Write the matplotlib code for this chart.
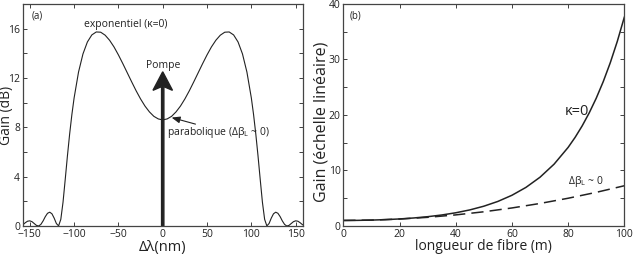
import matplotlib.pyplot as plt

plt.rcParams['font.family'] = ['Open Sans', 'DejaVu Sans']
plt.rcParams['mathtext.fontset'] = 'custom'
plt.rcParams['mathtext.rm'] = 'Open Sans'
plt.rcParams['mathtext.it'] = 'Open Sans:italic'

# (a) gain spectrum, dB vs detuning (nm)
dlam = [-158, -157.5, -155, -152.5, -150, -147.5, -145, -142.5, -140, -137.5, -135, -132.5,
        -130, -127.5, -125, -122.5, -120, -117.5, -115, -112.5, -110, -107.5, -105, -102.5,
        -100, -95, -90, -85, -80, -75, -70, -65, -60, -55, -50, -45, -40, -35, -30, -25,
        -20, -15, -10, -5, 0, 5, 10, 15, 20, 25, 30, 35, 40, 45, 50, 55, 60, 65, 70, 75,
        80, 85, 90, 95, 100, 102.5, 105, 107.5, 110, 112.5, 115, 117.5, 120, 122.5, 125,
        127.5, 130, 132.5, 135, 137.5, 140, 142.5, 145, 147.5, 150, 152.5, 155, 157.5, 158]
gain_db = [0.10, 0.12, 0.27, 0.39, 0.42, 0.35, 0.20, 0.05, 0.00, 0.13, 0.41, 0.76,
           1.03, 1.12, 0.99, 0.64, 0.20, 0.01, 0.54, 1.93, 3.79, 5.71, 7.48, 9.04,
           10.38, 12.48, 13.95, 14.92, 15.49, 15.73, 15.71, 15.47, 15.06, 14.52, 13.87, 13.16, 12.42, 11.68, 10.96, 10.30,
           9.72, 9.25, 8.89, 8.68, 8.60, 8.68, 8.89, 9.25, 9.72, 10.30, 10.96, 11.68, 12.42, 13.16, 13.87, 14.52, 15.06, 15.47, 15.71, 15.73,
           15.49, 14.92, 13.95, 12.48, 10.38, 9.04, 7.48, 5.71, 3.79, 1.93, 0.54, 0.01, 0.20, 0.64, 0.99,
           1.12, 1.03, 0.76, 0.41, 0.13, 0.00, 0.05, 0.20, 0.35, 0.42, 0.39, 0.27, 0.12, 0.10]

# (b) linear gain vs fibre length (m)
length = [0, 5, 10, 15, 20, 25, 30, 35, 40, 45, 50, 55, 60, 65, 70, 75, 80, 82.5, 85, 87.5,
          90, 92.5, 95, 97.5, 100]
gain_k0 = [1.0, 1.016, 1.064, 1.147, 1.272, 1.445, 1.676, 1.982, 2.381, 2.898, 3.566, 4.427,
           5.534, 6.957, 8.786, 11.136, 14.154, 15.971, 18.030, 20.364, 23.007, 26.003, 29.398,
           33.244, 37.605]
length_dash = [0, 10, 20, 30, 40, 50, 60, 70, 80, 90, 100]
gain_db0 = [1.0, 1.0625, 1.25, 1.5625, 2.0, 2.5625, 3.25, 4.0625, 5.0, 6.0625, 7.25]

ink = '#222222'
fig = plt.figure(figsize=(6.36, 2.57), dpi=100)
ax1 = fig.add_axes([0.0357, 0.1206, 0.4403, 0.864])
ax2 = fig.add_axes([0.5398, 0.1206, 0.4418, 0.864])

# panel a
ax1.plot(dlam, gain_db, color=ink, linewidth=0.8)
ax1.set_xlim(-158, 158)
ax1.set_ylim(0, 18)
ax1.set_xticks([-150, -100, -50, 0, 50, 100, 150])
ax1.set_yticks(range(0, 18, 2))
ax1.set_yticklabels([str(v) if v % 4 == 0 else '' for v in range(0, 18, 2)])
ax1.set_xlabel('Δλ(nm)', fontsize=10.5, color=ink)
ax1.set_ylabel('Gain (dB)', fontsize=10, color=ink)
ax1.xaxis.set_label_coords(0.5, -0.065)
ax1.yaxis.set_label_coords(-0.031, 0.5)
ax1.arrow(0, 0, 0, 12.5, width=2.6, head_width=22, head_length=1.5, overhang=0.2,
          length_includes_head=True, color=ink)
ax1.text(0, 13.0, 'Pompe', ha='center', va='center', fontsize=7.5, color=ink)
ax1.text(-42, 16.35, 'exponentiel (κ=0)', ha='center', va='center', fontsize=7.5, color=ink)
ax1.text(-142, 17.05, '(a)', ha='center', va='center', fontsize=7, color=ink)
ax1.annotate('', xy=(7, 8.85), xytext=(40, 8.2),
             arrowprops=dict(arrowstyle='-|>,head_width=0.2,head_length=0.5', color=ink, lw=0.8))
ax1.text(5, 7.6, r'parabolique ($\mathrm{Δβ}_\mathrm{L}$ ~ 0)', ha='left', va='center',
         fontsize=7.5, color=ink)

# panel b
ax2.plot(length, gain_k0, color=ink, linewidth=1.1)
ax2.plot(length_dash, gain_db0, color=ink, linewidth=1.1, dashes=(8, 4))
ax2.set_xlim(0, 100)
ax2.set_ylim(0, 40)
ax2.set_xticks([0, 20, 40, 60, 80, 100])
ax2.set_yticks(range(0, 41, 5))
ax2.set_yticklabels([str(v) if v % 10 == 0 else '' for v in range(0, 41, 5)])
ax2.set_xlabel('longueur de fibre (m)', fontsize=10, color=ink)
ax2.set_ylabel('Gain (échelle linéaire)', fontsize=11.5, color=ink)
ax2.xaxis.set_label_coords(0.5, -0.06)
ax2.yaxis.set_label_coords(-0.05, 0.47)
ax2.text(83, 20.6, 'κ=0', ha='center', va='center', fontsize=10.5, color=ink)
ax2.text(80, 8.0, r'$\mathrm{Δβ}_\mathrm{L}$ ~ 0', ha='left', va='center', fontsize=7.5, color=ink)
ax2.text(4.5, 37.8, '(b)', ha='center', va='center', fontsize=7, color=ink)

for ax in (ax1, ax2):
    ax.tick_params(direction='in', length=3, width=0.6, top=True, right=True,
                   labelsize=7.5, colors=ink, pad=2)
    for s in ax.spines.values():
        s.set_linewidth(0.9)
        s.set_color('#444444')

fig.savefig('out.png', dpi=100)
